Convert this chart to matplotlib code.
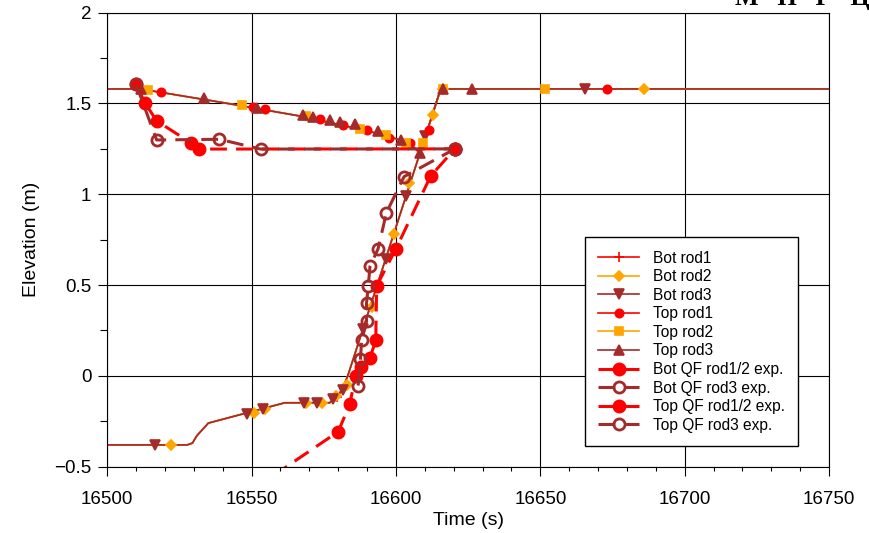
import matplotlib
matplotlib.use("Agg")
import matplotlib.pyplot as plt
from matplotlib.lines import Line2D
from matplotlib.ticker import MultipleLocator

plt.rcParams['font.family'] = ['Liberation Sans', 'DejaVu Sans']

RED = '#ff0000'
ORANGE = '#ffa500'
BROWN = '#a52a2a'

# simulated quench front lines (the three rods lie on top of each other)
bot_sim_t = [16500, 16527.7, 16529.5, 16531, 16535, 16561.5, 16577, 16580, 16582, 16583.3, 16615.5, 16750]
bot_sim_z = [-0.38, -0.38, -0.37, -0.33, -0.26, -0.148, -0.148, -0.11, -0.05, 0.0, 1.58, 1.58]
top_sim_t = [16500, 16511.4, 16540, 16566.7, 16590, 16601.3, 16606.5, 16608.3, 16615.5, 16750]
top_sim_z = [1.58, 1.58, 1.505, 1.431, 1.35, 1.30, 1.255, 1.225, 1.58, 1.58]

# marker positions on the simulated lines
bot1_t = [16554.8, 16579.6, 16599.3]
bot1_z = [-0.18, -0.115, 0.78]
bot2_t = [16522, 16550.8, 16554.8, 16568.8, 16574.4, 16579.2, 16582.9, 16591.6, 16599.3, 16604.6, 16612.9, 16616.3, 16686]
bot2_z = [-0.38, -0.205, -0.18, -0.148, -0.148, -0.113, -0.05, 0.378, 0.78, 1.06, 1.437, 1.58, 1.58]
bot3_t = [16516.5, 16548.3, 16554, 16568.3, 16572.5, 16578.3, 16581.6, 16588.7, 16596.5, 16603.4, 16610, 16665.4]
bot3_z = [-0.38, -0.21, -0.185, -0.148, -0.148, -0.125, -0.075, 0.26, 0.645, 0.99, 1.32, 1.58]
top1_t = [16518.6, 16550.6, 16554.6, 16573.7, 16581.8, 16589.8, 16597.6, 16604.8, 16611.5, 16673.1]
top1_z = [1.563, 1.482, 1.468, 1.413, 1.381, 1.354, 1.312, 1.281, 1.354, 1.58]
top2_t = [16514, 16546.5, 16569, 16587.5, 16596.7, 16603.4, 16609.4, 16616.3, 16651.6]
top2_z = [1.574, 1.492, 1.43, 1.36, 1.327, 1.28, 1.28, 1.58, 1.58]
top3_t = [16511.6, 16533.6, 16551.7, 16567.9, 16571.3, 16577.1, 16580.6, 16585.8, 16593.9, 16601.9, 16608.3, 16616.3, 16626.2]
top3_z = [1.58, 1.529, 1.477, 1.437, 1.427, 1.409, 1.398, 1.385, 1.348, 1.30, 1.227, 1.58, 1.58]

# experimental quench fronts
bot_qf12_t = [16550, 16580, 16584, 16586, 16588, 16591, 16593, 16593.3, 16600, 16612, 16620.4]
bot_qf12_z = [-0.63, -0.307, -0.155, 0.0, 0.05, 0.10, 0.195, 0.495, 0.70, 1.10, 1.25]
bot_qf3_t = [16586.9, 16587.7, 16588.1, 16589.8, 16589.8, 16590.4, 16591, 16593.8, 16596.7, 16602.8, 16620.4]
bot_qf3_z = [-0.053, 0.093, 0.195, 0.30, 0.40, 0.495, 0.603, 0.70, 0.899, 1.097, 1.25]
top_qf12_t = [16510, 16513, 16517.1, 16528.9, 16531.9, 16620.4]
top_qf12_z = [1.605, 1.505, 1.404, 1.284, 1.249, 1.25]
top_qf3_t = [16510, 16517.1, 16538.8, 16553.1, 16620.4]
top_qf3_z = [1.605, 1.299, 1.303, 1.249, 1.25]

fig = plt.figure(figsize=(8.7, 5.33), dpi=100)
ax = fig.add_axes([0.1233, 0.1244, 0.8296, 0.8518])

sim_lw = 1.2
ms = 6
for col in [RED, ORANGE, BROWN]:
    ax.plot(bot_sim_t, bot_sim_z, color=col, lw=sim_lw)
for col in [RED, ORANGE, BROWN]:
    ax.plot(top_sim_t, top_sim_z, color=col, lw=sim_lw)

sim = [
    ('Bot rod1', bot1_t, bot1_z, RED, '+', ms + 1),
    ('Bot rod2', bot2_t, bot2_z, ORANGE, 'D', ms - 0.5),
    ('Bot rod3', bot3_t, bot3_z, BROWN, 'v', ms + 1),
    ('Top rod1', top1_t, top1_z, RED, 'o', ms),
    ('Top rod2', top2_t, top2_z, ORANGE, 's', ms - 0.5),
    ('Top rod3', top3_t, top3_z, BROWN, '^', ms + 1),
]
handles = []
for name, t, z, col, mk, size in sim:
    ax.plot(t, z, ls='none', marker=mk, color=col, ms=size, mew=1.2)
    handles.append(Line2D([], [], color=col, lw=sim_lw, marker=mk, ms=size, mew=1.2, label=name))

dash = (0, (5.5, 3))
qf_lw = 2.2
exp = [
    ('Bot QF rod1/2 exp.', bot_qf12_t, bot_qf12_z, RED, RED),
    ('Bot QF rod3 exp.', bot_qf3_t, bot_qf3_z, BROWN, 'none'),
    ('Top QF rod1/2 exp.', top_qf12_t, top_qf12_z, RED, RED),
    ('Top QF rod3 exp.', top_qf3_t, top_qf3_z, BROWN, 'none'),
]
for name, t, z, col, face in exp:
    ax.plot(t, z, color=col, lw=qf_lw, ls=dash, marker='o', ms=8,
            mfc=face, mec=col, mew=2)
    handles.append(Line2D([], [], color=col, lw=qf_lw, ls=dash, marker='o', ms=8,
                          mfc=face, mec=col, mew=2, label=name))

ax.set_xlim(16500, 16750)
ax.set_ylim(-0.5, 2)
ax.xaxis.set_major_locator(MultipleLocator(50))
ax.xaxis.set_minor_locator(MultipleLocator(10))
ax.yaxis.set_major_locator(MultipleLocator(0.5))
ax.yaxis.set_minor_locator(MultipleLocator(0.25))
ax.set_yticks([2, 1.5, 1, 0.5, 0, -0.5])
ax.set_yticklabels(['2', '1.5', '1', '0.5', '0', '\u22120.5'])
ax.grid(True, which='major', color='black', lw=0.8)
ax.tick_params(axis='x', which='major', length=6.5, width=0.8, labelsize=13.5, pad=11)
ax.tick_params(axis='x', which='minor', length=3, width=0.8)
ax.tick_params(axis='y', which='major', length=6.5, width=0.8, labelsize=13.5, pad=5)
ax.tick_params(axis='y', which='minor', length=5, width=0.8)
for s in ax.spines.values():
    s.set_linewidth(0.8)

ax.set_xlabel('Time (s)', fontsize=14, labelpad=3)
ax.set_ylabel('Elevation (m)', fontsize=14, labelpad=10)

leg = ax.legend(handles=handles, loc='lower right', bbox_to_anchor=(0.957, 0.0456),
                fontsize=11.2, handlelength=2.6, handletextpad=0.9, labelspacing=0.23,
                borderpad=0.85, borderaxespad=0, fancybox=False, framealpha=1,
                edgecolor='black')
leg.get_frame().set_linewidth(1.0)

fig.text(1.0, 0.99, '\u041c   \u041f   \u0413   \u0426', ha='right', va='baseline',
         fontsize=18, fontweight='bold', family=['Liberation Serif', 'DejaVu Serif'])

fig.savefig('out.png', dpi=100)
